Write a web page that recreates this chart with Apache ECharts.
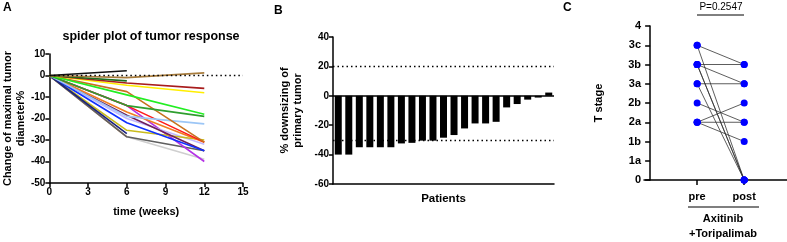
<!DOCTYPE html>
<html>
<head>
<meta charset="utf-8">
<script src="https://cdn.jsdelivr.net/npm/echarts@6/dist/echarts.min.js"></script>
<style>
  html, body { margin: 0; padding: 0; background: #fff; }
  #chart { width: 787px; height: 242px; }
</style>
</head>
<body>
<div id="chart"></div>
<script>
// ---- A: spider plot data ----
const weeks = [0, 6, 12];
// one array per patient, values at week 0 / 6 / 12 (some stop at week 6)
const spiderValues = [
  [0, -28.5, -39],
  [0, -28.5],
  [0, -28.5, -35],
  [0, -14, -40],
  [0, -20, -32],
  [0, -25.5, -30],
  [0, -18.5, -35],
  [0, -17, -31],
  [0, -22, -35],
  [0, -27],
  [0, -14, -31],
  [0, -19, -22.5],
  [0, -7.5, -31],
  [0, -14, -19],
  [0, -9, -18],
  [0, -4.5, -8],
  [0, -3.5, -6],
  [0, -2.5],
  [0, -1, 1.2],
  [0, 2.2]
];
const spiderColors = [
  '#cfcfcf', '#f2b27e', '#5f5f5f', '#b533e6', '#c3b9ff', '#c9bb1c', '#6e1f5c',
  '#f07d22', '#1030ff', '#1a237e', '#ff1a1a', '#9cc6f6', '#c8711f', '#2f9e2f',
  '#22ee22', '#ffee00', '#a81c1c', '#1e6e1e', '#a87c3c', '#111111'
];

// ---- B: waterfall data ----
const downsizing = [-40, -40, -35, -35, -35, -35, -32.4, -32, -30.5, -30.5, -28.5,
  -26.7, -22.2, -18.8, -18.8, -17.7, -7.9, -5.6, -2.6, -1.2, 2.2];
const patients = downsizing.map((_, i) => 'P' + (i + 1));

// ---- C: T stage pre / post ----
const groups = ['pre', 'post'];
const stageLabels = ['0', '1a', '1b', '2a', '2b', '3a', '3b', '3c', '4'];
const preStage = [7, 7, 6, 6, 6, 6, 5, 5, 4, 3, 3, 3];
const postStage = [6, 0, 6, 5, 0, 0, 5, 0, 3, 4, 3, 2];

const FONT = '"Liberation Sans", Arial, sans-serif';
const axisLine = { show: true, lineStyle: { color: '#000', width: 1.5 } };
const axisTick = { show: true, length: 4, lineStyle: { color: '#000', width: 1.5 } };
const tickLabel = { color: '#000', fontFamily: FONT, fontWeight: 'bold', fontSize: 10, margin: 4 };
const nameStyle = { color: '#000', fontFamily: FONT, fontWeight: 'bold', fontSize: 11, lineHeight: 13 };

const chart = echarts.init(document.getElementById('chart'));

// spider series
const spiderSeries = spiderValues.map((vals, i) => ({
  type: 'line',
  xAxisIndex: 0,
  yAxisIndex: 0,
  data: vals.map((v, k) => [weeks[k], v]),
  symbol: 'none',
  lineStyle: { color: spiderColors[i], width: 1.6 },
  silent: true
}));
spiderSeries.push({
  type: 'line', xAxisIndex: 0, yAxisIndex: 0, data: [], symbol: 'none',
  markLine: {
    silent: true, symbol: 'none', label: { show: false },
    lineStyle: { color: '#000', type: [1.5, 3], width: 1.3 },
    data: [{ yAxis: 0 }]
  }
});

// pre -> post lines for C
const pairSeries = preStage.map((p, i) => ({
  type: 'line',
  xAxisIndex: 2,
  yAxisIndex: 2,
  data: [[1, p], [2, postStage[i]]],
  symbol: 'none',
  lineStyle: { color: '#333', width: 0.8 },
  silent: true
}));
const stagePoints = [];
preStage.forEach((p, i) => { stagePoints.push([1, p]); stagePoints.push([2, postStage[i]]); });

const option = {
  animation: false,
  backgroundColor: '#fff',
  title: {
    text: 'spider plot of tumor response',
    left: 146, top: 25, textAlign: 'center',
    textStyle: { color: '#000', fontFamily: FONT, fontWeight: 'bold', fontSize: 12.5 }
  },
  grid: [
    { left: 49, top: 54, width: 194, height: 129 },
    { left: 333, top: 37, width: 221, height: 147 },
    { left: 644, top: 26, width: 143, height: 154 }
  ],
  xAxis: [
    {
      gridIndex: 0, type: 'value', min: 0, max: 15, interval: 3,
      axisLine: Object.assign({ onZero: false }, axisLine), axisTick, axisLabel: tickLabel,
      splitLine: { show: false },
      name: 'time (weeks)', nameLocation: 'middle', nameGap: 22, nameTextStyle: nameStyle
    },
    {
      gridIndex: 1, type: 'category', data: patients,
      axisLine: Object.assign({ onZero: false }, axisLine), axisTick: { show: false }, axisLabel: { show: false },
      name: 'Patients', nameLocation: 'middle', nameGap: 8,
      nameTextStyle: Object.assign({}, nameStyle, { fontSize: 11.5 })
    },
    {
      gridIndex: 2, type: 'value', min: -0.13, max: 2.91,
      axisLine: axisLine,
      axisTick: { show: true, length: 5, customValues: [1, 2], lineStyle: { color: '#000', width: 1.5 } },
      axisLabel: {
        customValues: [1, 2], formatter: v => groups[Math.round(v) - 1] || '',
        color: '#000', fontFamily: FONT, fontWeight: 'bold', fontSize: 11, margin: 11
      },
      splitLine: { show: false }
    }
  ],
  yAxis: [
    {
      gridIndex: 0, type: 'value', min: -50, max: 10, interval: 10,
      axisLine, axisTick, axisLabel: tickLabel, splitLine: { show: false },
      name: 'Change of maximal tumor\ndiameter%', nameLocation: 'middle', nameGap: 21,
      nameTextStyle: nameStyle
    },
    {
      gridIndex: 1, type: 'value', min: -60, max: 40, interval: 20,
      axisLine, axisTick, axisLabel: tickLabel, splitLine: { show: false },
      name: '% downsizing of\nprimary tumor', nameLocation: 'middle', nameGap: 29,
      nameTextStyle: nameStyle
    },
    {
      gridIndex: 2, type: 'value', min: 0, max: 8, interval: 1,
      axisLine, axisTick: { show: true, length: 5, lineStyle: { color: '#000', width: 1.5 } },
      axisLabel: {
        formatter: v => stageLabels[v], color: '#000', fontFamily: FONT,
        fontWeight: 'bold', fontSize: 11, margin: 3
      },
      splitLine: { show: false },
      name: 'T stage', nameLocation: 'middle', nameGap: 39, nameTextStyle: nameStyle
    }
  ],
  series: [
    ...spiderSeries,
    {
      type: 'bar', xAxisIndex: 1, yAxisIndex: 1, data: downsizing,
      barWidth: 7, itemStyle: { color: '#000' }, silent: true,
      markLine: {
        silent: true, symbol: 'none', label: { show: false },
        data: [
          { yAxis: 0, lineStyle: { color: '#000', type: 'solid', width: 1.6 } },
          { yAxis: 20, lineStyle: { color: '#000', type: [1.5, 3], width: 1.3 } },
          { yAxis: -30, lineStyle: { color: '#000', type: [1.5, 3], width: 1.3 } }
        ]
      }
    },
    ...pairSeries,
    {
      type: 'scatter', xAxisIndex: 2, yAxisIndex: 2, data: stagePoints,
      symbolSize: 7, itemStyle: { color: '#0000ff', opacity: 1 }, silent: true, z: 5
    }
  ],
  graphic: [
    { type: 'text', left: 3, top: 2, style: { text: 'A', font: 'bold 12px ' + FONT, fill: '#000' } },
    { type: 'text', left: 274, top: 5, style: { text: 'B', font: 'bold 12px ' + FONT, fill: '#000' } },
    { type: 'text', left: 563, top: 2, style: { text: 'C', font: 'bold 12px ' + FONT, fill: '#000' } },
    { type: 'text', x: 721, y: 2, style: { text: 'P=0.2547', font: '10px ' + FONT, fill: '#000', align: 'center' } },
    { type: 'line', shape: { x1: 697, y1: 15, x2: 744, y2: 15 }, style: { stroke: '#000', lineWidth: 1 } },
    { type: 'line', shape: { x1: 688, y1: 207, x2: 759, y2: 207 }, style: { stroke: '#000', lineWidth: 1.2 } },
    { type: 'text', x: 723, y: 213, style: { text: 'Axitinib', font: 'bold 11px ' + FONT, fill: '#000', align: 'center' } },
    { type: 'text', x: 723, y: 228, style: { text: '+Toripalimab', font: 'bold 11px ' + FONT, fill: '#000', align: 'center' } }
  ]
};

chart.setOption(option);
</script>
</body>
</html>
